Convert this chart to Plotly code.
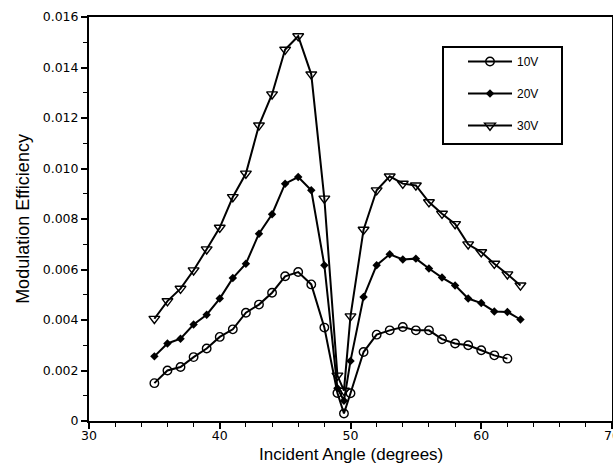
import plotly.graph_objects as go

# Data
angle_10v = [35, 36, 37, 38, 39, 40, 41, 42, 43, 44, 45, 46, 47, 48, 49, 49.5, 50,
             51, 52, 53, 54, 55, 56, 57, 58, 59, 60, 61, 62]
eff_10v = [0.0015, 0.0020, 0.00214, 0.00253, 0.00287, 0.00333, 0.00363, 0.00429, 0.00461,
           0.00508, 0.00573, 0.0059, 0.00541, 0.0037, 0.00111, 0.0003, 0.0011,
           0.00273, 0.00342, 0.00359, 0.00372, 0.00359, 0.00359, 0.00324, 0.00307,
           0.0030, 0.0028, 0.0026, 0.00247]

angle_20v = [35, 36, 37, 38, 39, 40, 41, 42, 43, 44, 45, 46, 47, 48, 49, 49.5, 50,
             51, 52, 53, 54, 55, 56, 57, 58, 59, 60, 61, 62, 63]
eff_20v = [0.00256, 0.00307, 0.00326, 0.00382, 0.00421, 0.00485, 0.00566, 0.00623, 0.00742,
           0.00819, 0.0094, 0.00966, 0.00914, 0.00617, 0.0013, 0.0008, 0.00238,
           0.00491, 0.00617, 0.0066, 0.0064, 0.00643, 0.00604, 0.00568, 0.00537,
           0.00485, 0.00467, 0.00434, 0.00432, 0.00402]

angle_30v = [35, 36, 37, 38, 39, 40, 41, 42, 43, 44, 45, 46, 47, 48, 49, 49.5, 50,
             51, 52, 53, 54, 55, 56, 57, 58, 59, 60, 61, 62, 63]
eff_30v = [0.00405, 0.00475, 0.00524, 0.00597, 0.0068, 0.00766, 0.00887, 0.0098, 0.01171,
           0.01294, 0.01471, 0.01524, 0.01373, 0.00881, 0.0018, 0.0012, 0.00415,
           0.00758, 0.00914, 0.00969, 0.0094, 0.00933, 0.00867, 0.00821, 0.0078,
           0.0070, 0.00669, 0.00623, 0.00581, 0.00537]

x_ticks = [30, 40, 50, 60, 70]
y_ticks = [0, 0.002, 0.004, 0.006, 0.008, 0.010, 0.012, 0.014, 0.016]
y_tick_labels = ["0", "0.002", "0.004", "0.006", "0.008", "0.010", "0.012", "0.014", "0.016"]
x_title = "Incident Angle (degrees)"
y_title = "Modulation Efficiency"

fig = go.Figure()
fig.add_trace(go.Scatter(
    x=angle_10v, y=eff_10v, name="10V", mode="lines+markers", legendgroup="a",
    line=dict(color="black", width=2),
    marker=dict(symbol="circle-open", size=8.5, color="black", line=dict(width=1.4))))
fig.add_trace(go.Scatter(
    x=angle_20v, y=eff_20v, name="20V", mode="lines+markers", legendgroup="b",
    line=dict(color="black", width=2),
    marker=dict(symbol="diamond", size=6.5, color="black")))
fig.add_trace(go.Scatter(
    x=angle_30v, y=eff_30v, name="30V", mode="lines+markers", legendgroup="c",
    line=dict(color="black", width=2),
    marker=dict(symbol="triangle-down-open", size=9.5, color="black", line=dict(width=1.4))))

axis_common = dict(showgrid=False, zeroline=False, showline=True, linecolor="black",
                   linewidth=2, mirror=True, ticks="outside", ticklen=6, tickwidth=1.5,
                   tickcolor="black", ticklabeloverflow="allow", automargin=False,
                   tickfont=dict(family="DejaVu Sans", size=12.5, color="black"))

fig.update_xaxes(range=[30, 70], tickvals=x_ticks, ticklabelstandoff=-4,
                 minor=dict(dtick=2, ticks="outside", ticklen=4, tickwidth=1.2, tickcolor="black"),
                 **axis_common)
fig.update_yaxes(range=[0, 0.016], tickvals=y_ticks, ticktext=y_tick_labels,
                 minor=dict(dtick=0.001, ticks="outside", ticklen=4, tickwidth=1.2, tickcolor="black"),
                 title=dict(text=y_title,
                            font=dict(family="Liberation Sans", size=18, color="black"),
                            standoff=8),
                 **axis_common)

# x-axis title placed just under the tick labels
fig.add_annotation(text=x_title, xref="paper", yref="paper", x=0.5, y=-0.084,
                   xanchor="center", yanchor="middle", showarrow=False,
                   font=dict(family="Liberation Sans", size=17, color="black"))

# legend frame
fig.add_shape(type="rect", xref="paper", yref="paper",
              x0=(443 - 89) / 523, x1=(562 - 89) / 523,
              y0=(421 - 144) / 404, y1=(421 - 47) / 404,
              line=dict(color="black", width=2), fillcolor="white", layer="below")

fig.update_layout(
    width=613, height=471,
    margin=dict(l=89, r=1, t=17, b=50),
    plot_bgcolor="white", paper_bgcolor="white",
    font=dict(family="Liberation Sans", color="black"),
    legend=dict(x=(463 - 89) / 523, y=(421 - 47) / 404, xanchor="left", yanchor="top",
                borderwidth=0, bgcolor="rgba(0,0,0,0)",
                font=dict(family="Liberation Sans", size=12, color="black"),
                traceorder="grouped", tracegroupgap=13, itemwidth=44),
    showlegend=True,
)

fig.write_html("out.html")
